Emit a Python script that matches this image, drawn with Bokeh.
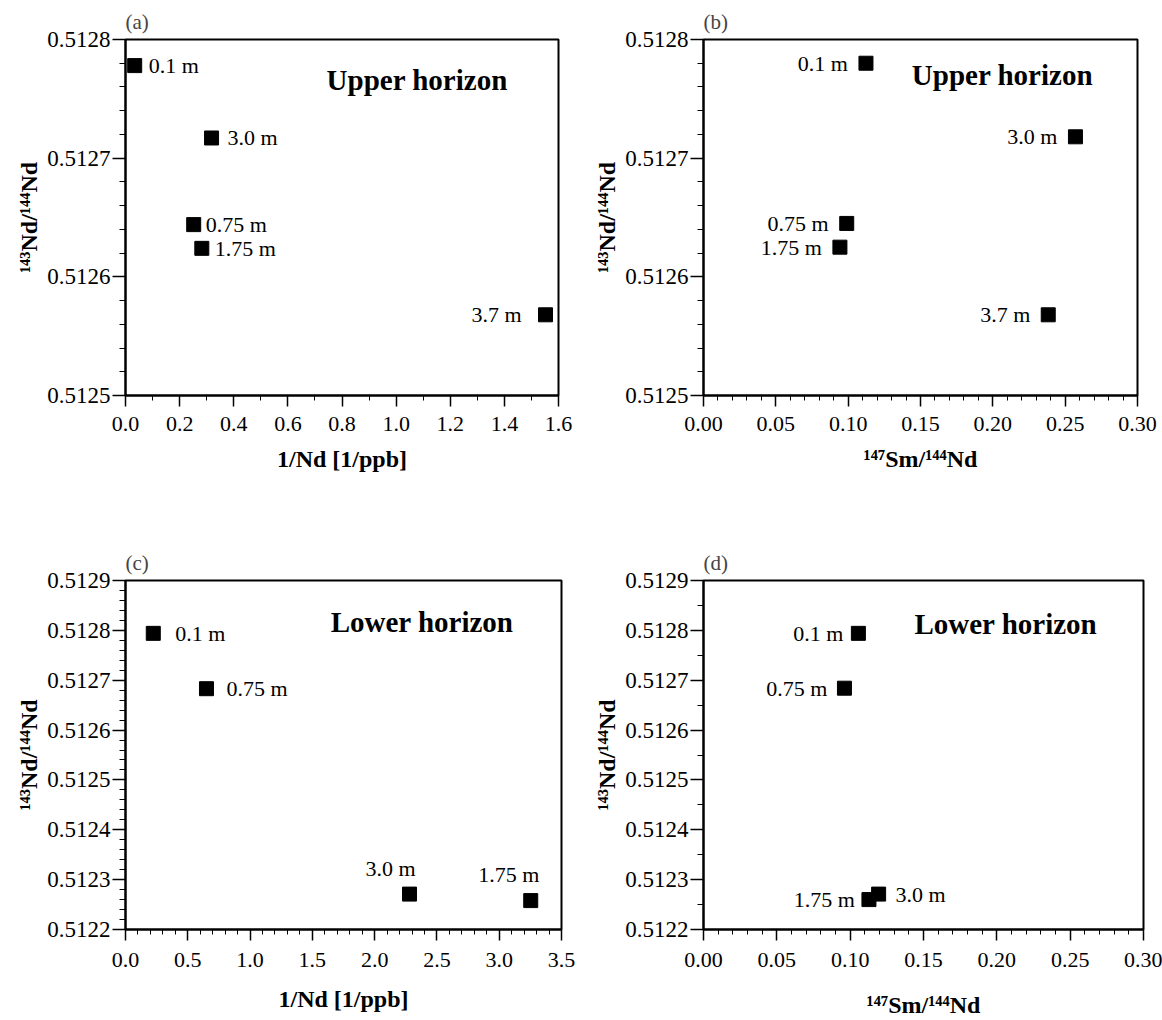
import numpy as np
from bokeh.plotting import figure
from bokeh.models import ColumnDataSource, FixedTicker, PrintfTickFormatter, Label, Range1d
from bokeh.layouts import column, row
from bokeh.embed import file_html
from bokeh.resources import INLINE
from bokeh.core.properties import value

SERIF = "Liberation Serif"

# ---------------- data ----------------
# (a) upper horizon, 143Nd/144Nd vs 1/Nd
depth_a = ["0.1 m", "3.0 m", "0.75 m", "1.75 m", "3.7 m"]
inv_nd_a = [0.034, 0.318, 0.252, 0.282, 1.552]
nd_ratio_a = [0.512778, 0.512717, 0.512644, 0.512624, 0.512568]

# (b) upper horizon, 143Nd/144Nd vs 147Sm/144Nd
depth_b = ["0.1 m", "3.0 m", "0.75 m", "1.75 m", "3.7 m"]
sm_nd_b = [0.1123, 0.2571, 0.0990, 0.0943, 0.2383]
nd_ratio_b = [0.512780, 0.512718, 0.512645, 0.512625, 0.512568]

# (c) lower horizon, 143Nd/144Nd vs 1/Nd
depth_c = ["0.1 m", "0.75 m", "3.0 m", "1.75 m"]
inv_nd_c = [0.223, 0.650, 2.280, 3.253]
nd_ratio_c = [0.512794, 0.512683, 0.512271, 0.512258]

# (d) lower horizon, 143Nd/144Nd vs 147Sm/144Nd
depth_d = ["0.1 m", "0.75 m", "3.0 m", "1.75 m"]
sm_nd_d = [0.1056, 0.0961, 0.1194, 0.1128]
nd_ratio_d = [0.512794, 0.512684, 0.512271, 0.512260]

# tick labels
xticks_a = [0.0, 0.2, 0.4, 0.6, 0.8, 1.0, 1.2, 1.4, 1.6]
xticks_c = [0.0, 0.5, 1.0, 1.5, 2.0, 2.5, 3.0, 3.5]
xticks_sm = [0.00, 0.05, 0.10, 0.15, 0.20, 0.25, 0.30]
yticks_upper = [0.5125, 0.5126, 0.5127, 0.5128]
yticks_lower = [0.5122, 0.5123, 0.5124, 0.5125, 0.5126, 0.5127, 0.5128, 0.5129]

xlabel_nd = "1/Nd [1/ppb]"
xlabel_sm = "¹⁴⁷Sm/¹⁴⁴Nd"
ylabel = "¹⁴³Nd/¹⁴⁴Nd"

# ---------------- label placement (style) ----------------
place_a = [(14, 0, "left"), (16, 0, "left"), (12, 0, "left"), (13, 0, "left"), (-24, 0, "right")]
place_b = [(-18, 0, "right")] * 5
place_c = [(22, 0, "left"), (20, 0, "left"), (-19, -26, "center"), (-22, -26, "center")]
place_d = [(-15, 0, "right"), (-17, 0, "right"), (17, 0, "left"), (-14, 0, "right")]


def minor(lo, hi, step):
    n = int(round((hi - lo) / step))
    return [round(lo + i * step, 7) for i in range(n + 1)]


def panel(xs, ys, labels, place, xr, yr, xticks, xminor, xfmt, yticks, yminor,
          xlabel, title, heading, hpos, width, height, bl, br, bt, bb,
          xtick_standoff, xl_standoff):
    p = figure(width=width, height=height,
               x_range=Range1d(*xr), y_range=Range1d(*yr),
               output_backend="svg", toolbar_location=None, tools="",
               min_border_left=bl, min_border_right=br,
               min_border_top=bt, min_border_bottom=bb,
               background_fill_color="white", border_fill_color="white")
    p.xgrid.visible = False
    p.ygrid.visible = False
    p.outline_line_color = "black"
    p.outline_line_width = 2
    p.outline_line_alpha = 1

    p.title.text = title
    p.title.text_font = SERIF
    p.title.text_font_style = "normal"
    p.title.text_font_size = "21px"
    p.title.align = "left"
    p.title.standoff = 11

    for ax in (p.xaxis[0], p.yaxis[0]):
        ax.axis_line_color = "black"
        ax.axis_line_width = 2
        ax.major_tick_line_color = "black"
        ax.major_tick_line_width = 1.5
        ax.minor_tick_line_color = "black"
        ax.minor_tick_line_width = 1
        ax.major_tick_in = 0
        ax.minor_tick_in = 0
        ax.major_label_text_font = SERIF
        ax.major_label_text_color = "black"
        ax.axis_label_text_font = SERIF
        ax.axis_label_text_font_style = "bold"
        ax.axis_label_text_font_size = "24px"
        ax.axis_label_text_color = "black"

    xa = p.xaxis[0]
    xa.ticker = FixedTicker(ticks=xticks, minor_ticks=xminor)
    xa.formatter = PrintfTickFormatter(format=xfmt)
    xa.major_label_text_font_size = "22px"
    xa.major_tick_out = 11
    xa.minor_tick_out = 5
    xa.major_label_standoff = xtick_standoff
    xa.axis_label = xlabel
    xa.axis_label_standoff = xl_standoff

    ya = p.yaxis[0]
    ya.ticker = FixedTicker(ticks=yticks, minor_ticks=yminor)
    ya.formatter = PrintfTickFormatter(format="%.4f")
    ya.major_label_text_font_size = "23px"
    ya.major_tick_out = 13
    ya.minor_tick_out = 6
    ya.major_label_standoff = 2
    ya.axis_label = ylabel
    ya.axis_label_standoff = 2

    src = ColumnDataSource(dict(
        x=xs, y=ys, label=labels,
        dx=[q[0] for q in place], dy=[q[1] for q in place], align=[q[2] for q in place]))
    p.scatter("x", "y", source=src, marker="square", size=14,
              fill_color="black", line_color="black")
    p.text("x", "y", text="label", source=src, x_offset="dx", y_offset="dy",
           text_align="align", text_baseline="middle",
           text_font=value(SERIF), text_font_size="22px", text_color="black")

    p.add_layout(Label(x=hpos[0], y=hpos[1], text=heading, text_font=SERIF,
                       text_font_style="bold", text_font_size="29px",
                       text_baseline="middle", text_align="left", text_color="black"))
    return p


pa = panel(inv_nd_a, nd_ratio_a, depth_a, place_a, (0, 1.6), (0.5125, 0.5128),
           xticks_a, minor(0, 1.6, 0.1), "%.1f", yticks_upper, minor(0.5125, 0.5128, 0.00002),
           xlabel_nd, "(a)", "Upper horizon", (0.743, 0.512766),
           580, 490, 125, 22, 39, 95, 10, 12)
pb = panel(sm_nd_b, nd_ratio_b, depth_b, place_b, (0, 0.3), (0.5125, 0.5128),
           xticks_sm, minor(0, 0.3, 0.01), "%.2f", yticks_upper, minor(0.5125, 0.5128, 0.00002),
           xlabel_sm, "(b)", "Upper horizon", (0.144, 0.51277),
           582, 490, 123, 25, 39, 95, 10, 12)
pc = panel(inv_nd_c, nd_ratio_c, depth_c, place_c, (0, 3.5), (0.5122, 0.5129),
           xticks_c, minor(0, 3.5, 0.1), "%.1f", yticks_lower, minor(0.5122, 0.5129, 0.00002),
           xlabel_nd, "(c)", "Lower horizon", (1.647, 0.512816),
           580, 530, 125, 19, 90, 82, 12, 16)
pd_ = panel(sm_nd_d, nd_ratio_d, depth_d, place_d, (0, 0.3), (0.5122, 0.5129),
            xticks_sm, minor(0, 0.3, 0.01), "%.2f", yticks_lower, minor(0.5122, 0.5129, 0.00005),
            xlabel_sm, "(d)", "Lower horizon", (0.1438, 0.512813),
            582, 530, 123, 19, 90, 82, 12, 22)

layout = column(row(pa, pb), row(pc, pd_))
open("out.html", "w").write(file_html(layout, INLINE))
